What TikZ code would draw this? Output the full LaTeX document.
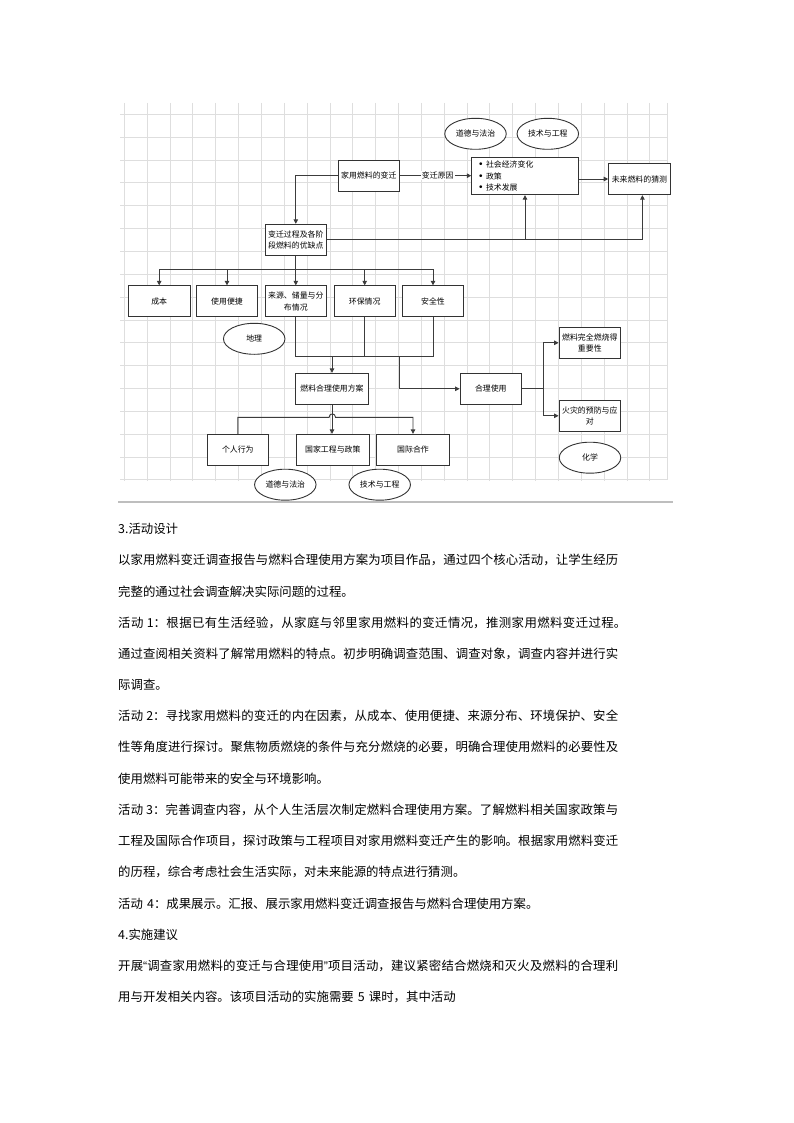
\documentclass[tikz,border=0pt]{standalone}
\usepackage{fontspec}
\setmainfont{Noto Sans CJK SC}
\newfontfamily\narrowfont{Liberation Sans}
\XeTeXlinebreaklocale "zh"
\XeTeXlinebreakskip=0pt plus 1pt
\definecolor{boxgray}{RGB}{51, 51, 51}
\definecolor{linkgray}{RGB}{60, 60, 60}
\definecolor{gridgray}{RGB}{222, 222, 222}
\definecolor{rulegray}{RGB}{190, 190, 190}
\usetikzlibrary{shapes.geometric, arrows.meta, positioning, calc}

\newcommand{\diagfont}{\fontsize{7.9}{11.5}\selectfont}
\newcommand{\bodyfont}{\fontsize{12.4}{15}\selectfont}
\newcommand{\fullline}[1]{\parfillskip=0pt\relax #1\par}
\newcommand{\listbullet}{\makebox[7pt][l]{\narrowfont\fontsize{10}{11.5}\selectfont\textbullet}}

\tikzset{
  box/.style={draw=boxgray, line width=0.9pt, fill=white, minimum width=61.5pt,
              minimum height=31pt, inner sep=1pt, font=\diagfont, align=center},
  bubble/.style={ellipse, draw=boxgray, line width=0.9pt, fill=white, minimum width=61.5pt,
                 minimum height=31pt, inner sep=0pt, font=\diagfont},
  link/.style={draw=linkgray, line width=0.9pt},
  arrow/.style={link, -{Triangle[length=4.5pt, width=4.5pt]}},
  gridline/.style={draw=gridgray, line width=0.9pt},
  bodyline/.style={anchor=west, inner sep=0pt, font=\bodyfont, text width=500pt, align=left},
  fullline/.style={bodyline, align=justify}
}

\begin{document}
\begin{tikzpicture}[x=1pt, y=-1pt]
  \useasboundingbox (0,0) rectangle (794,1123);
  \fill[white] (0,0) rectangle (794,1123);

  % Grid paper
  \begin{scope}
    \clip (120,103) rectangle (667,481);
    \foreach \i in {0,...,23}
      \draw[gridline] ({124.3+22.85*\i},103) -- ({124.3+22.85*\i},481);
    \foreach \j in {0,...,16}
      \draw[gridline] (120,{114.3+22.85*\j}) -- (667,{114.3+22.85*\j});
  \end{scope}
  \draw[gridline] (667,103) -- (667,480);

  % Subject bubbles (top)
  \node[bubble] (daode1) at (475.5,133.8) {道德与法治};
  \node[bubble] (jishu1) at (547.8,133.8) {技术与工程};

  % Change of household fuel
  \node[box] (jiayong) at (368.8,175.7) {家用燃料的变迁};
  \node[box, minimum width=106.6pt, minimum height=37.4pt, text width=92pt, align=left]
    (yuanyin) at (525,176)
    {\listbullet 社会经济变化\\
     \listbullet 政策\\
     \listbullet 技术发展};
  \node[box, minimum height=31.4pt] (weilai) at (639.4,179) {未来燃料的猜测};
  \node[box] (guocheng) at (295.8,239.8) {变迁过程及各阶\\段燃料的优缺点};

  % Factors
  \node[box] (chengben) at (159.2,301.3) {成本};
  \node[box] (bianjie) at (227,301.3) {使用便捷};
  \node[box] (laiyuan) at (295.8,301.3) {来源、储量与分\\布情况};
  \node[box] (huanbao) at (364.7,301.3) {环保情况};
  \node[box] (anquan) at (433,301.3) {安全性};
  \node[bubble] (dili) at (254.2,338.8) {地理};

  % Plan and rational use
  \node[box, minimum width=72.6pt] (fangan) at (332,388.8) {燃料合理使用方案};
  \node[box] (heli) at (490.8,388.8) {合理使用};
  \node[box] (wanquan) at (589.8,342.8) {燃料完全燃烧得\\重要性};
  \node[box] (huozai) at (589.8,415.8) {火灾的预防与应\\对};
  \node[bubble] (huaxue) at (590,457.7) {化学};

  % Plan branches
  \node[box] (geren) at (237.8,449.8) {个人行为};
  \node[box, minimum width=73pt] (guojia) at (332.8,449.8) {国家工程与政策};
  \node[box, minimum width=72.6pt] (hezuo) at (413,449.8) {国际合作};
  \node[bubble] (daode2) at (285.3,484.7) {道德与法治};
  \node[bubble] (jishu2) at (379.7,484.7) {技术与工程};

  % Top connectors
  \draw[arrow] (jiayong.west) -| (guocheng.north);
  \draw[arrow] (jiayong.east) -- node[pos=0.53, fill=white, inner sep=1pt, font=\diagfont] (reason) {变迁原因}
    (jiayong.east -| yuanyin.west);
  \draw[arrow] (yuanyin.east |- weilai) -- (weilai.west);
  \draw[arrow] (guocheng.east) -| ([xshift=3pt]weilai.south);
  \draw[arrow] (yuanyin.south |- guocheng.east) -- (yuanyin.south);

  % Factor bus
  \coordinate (bus) at (295.8,269.3);
  \draw[link] (guocheng.south) -- (bus);
  \draw[link] (chengben.north |- bus) -- (anquan.north |- bus);
  \foreach \f in {chengben, bianjie, laiyuan, huanbao, anquan}
    \draw[arrow] (\f.north |- bus) -- (\f.north);

  % Join to plan and rational use
  \coordinate (join) at (332,356);
  \coordinate (split) at (399,356);
  \draw[link] (laiyuan.south) |- (join);
  \draw[link] (huanbao.south) -- (huanbao.south |- join);
  \draw[link] (anquan.south) |- (join);
  \draw[arrow] (join) -- (fangan.north);
  \draw[arrow] (split) |- (heli.west);
  \draw[arrow] (heli.east) -- ++(21.5,0) |- (wanquan.west);
  \draw[arrow] (heli.east) -- ++(21.5,0) |- (huozai.west);

  % Plan bus with line jump
  \coordinate (hop) at (332.3,417.3);
  \draw[arrow] (fangan.south) -- (fangan.south |- guojia.north);
  \draw[arrow] (geren.north) |- ([xshift=-3.2pt]hop)
    .. controls ([xshift=-3.2pt, yshift=4.5pt]hop) and ([xshift=3.2pt, yshift=4.5pt]hop) ..
    ([xshift=3.2pt]hop) -| (hezuo.north);

  % Separator
  \draw[rulegray, line width=1.3pt] (118,502) -- (673,502);

  % Text
  \node[bodyline] (t1) at (118,529) {3.活动设计};
  \node[fullline] (t2) at (118,560.2) {\fullline{以家用燃料变迁调查报告与燃料合理使用方案为项目作品，通过四个核心活动，让学生经历}};
  \node[bodyline] (t3) at (118,591.4) {完整的通过社会调查解决实际问题的过程。};
  \node[fullline, text width=508pt] (t4) at (118,622.6) {\fullline{活动 1：根据已有生活经验，从家庭与邻里家用燃料的变迁情况，推测家用燃料变迁过程。}};
  \node[fullline] (t5) at (118,653.8) {\fullline{通过查阅相关资料了解常用燃料的特点。初步明确调查范围、调查对象，调查内容并进行实}};
  \node[bodyline] (t6) at (118,685) {际调查。};
  \node[fullline] (t7) at (118,716.2) {\fullline{活动 2：寻找家用燃料的变迁的内在因素，从成本、使用便捷、来源分布、环境保护、安全}};
  \node[fullline] (t8) at (118,747.4) {\fullline{性等角度进行探讨。聚焦物质燃烧的条件与充分燃烧的必要，明确合理使用燃料的必要性及}};
  \node[bodyline] (t9) at (118,778.6) {使用燃料可能带来的安全与环境影响。};
  \node[fullline] (t10) at (118,809.8) {\fullline{活动 3：完善调查内容，从个人生活层次制定燃料合理使用方案。了解燃料相关国家政策与}};
  \node[fullline] (t11) at (118,841) {\fullline{工程及国际合作项目，探讨政策与工程项目对家用燃料变迁产生的影响。根据家用燃料变迁}};
  \node[bodyline] (t12) at (118,872.2) {的历程，综合考虑社会生活实际，对未来能源的特点进行猜测。};
  \node[bodyline] (t13) at (118,903.4) {活动 4：成果展示。汇报、展示家用燃料变迁调查报告与燃料合理使用方案。};
  \node[bodyline] (t14) at (118,934.6) {4.实施建议};
  \node[fullline] (t15) at (118,965.8) {\fullline{开展{\narrowfont “}调查家用燃料的变迁与合理使用{\narrowfont ”}项目活动，建议紧密结合燃烧和灭火及燃料的合理利}};
  \node[bodyline] (t16) at (118,997) {用与开发相关内容。该项目活动的实施需要 5 课时，其中活动};
\end{tikzpicture}
\end{document}
